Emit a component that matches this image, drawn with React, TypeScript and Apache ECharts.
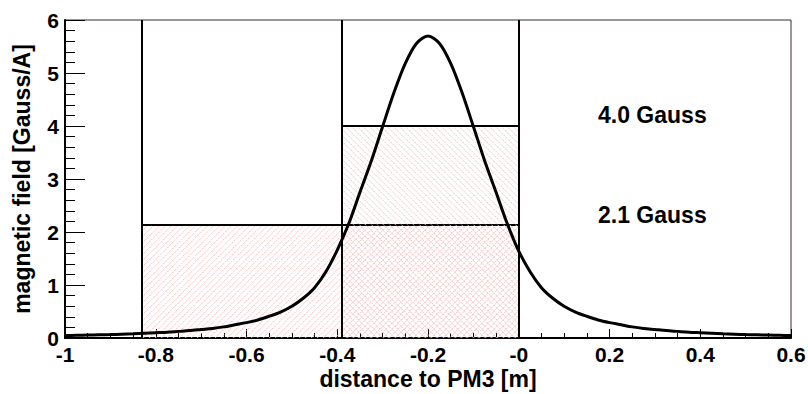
import React, { useEffect, useRef } from "react";
import * as echarts from "echarts";

// Curve: distance (m) vs magnetic field (Gauss/A), sampled every 0.025 m
const curveX = [
  -1.0, -0.975, -0.95, -0.925, -0.9, -0.875, -0.85, -0.825, -0.8, -0.775, -0.75, -0.725, -0.7,
  -0.675, -0.65, -0.625, -0.6, -0.575, -0.55, -0.525, -0.5, -0.475, -0.45, -0.425, -0.4, -0.375,
  -0.35, -0.325, -0.3, -0.275, -0.25, -0.225, -0.2, -0.175, -0.15, -0.125, -0.1, -0.075, -0.05,
  -0.025, 0.0, 0.025, 0.05, 0.075, 0.1, 0.125, 0.15, 0.175, 0.2, 0.225, 0.25, 0.275, 0.3, 0.325,
  0.35, 0.375, 0.4, 0.425, 0.45, 0.475, 0.5, 0.525, 0.55, 0.575, 0.6,
];
const curveY = [
  0.045, 0.05, 0.055, 0.06, 0.065, 0.072, 0.08, 0.09, 0.1, 0.11, 0.125, 0.14, 0.16,
  0.18, 0.21, 0.25, 0.29, 0.34, 0.41, 0.49, 0.6, 0.75, 0.95, 1.25, 1.66, 2.15,
  2.75, 3.34, 3.99, 4.63, 5.18, 5.56, 5.7, 5.56, 5.18, 4.63, 3.99, 3.34, 2.75,
  2.15, 1.64, 1.25, 0.95, 0.75, 0.6, 0.49, 0.41, 0.34, 0.29, 0.25, 0.21, 0.18, 0.16, 0.14,
  0.125, 0.11, 0.1, 0.09, 0.08, 0.072, 0.065, 0.06, 0.055, 0.05, 0.045,
];

// Hatched integration boxes
const boxStart = [-0.83, -0.39];
const boxEnd = [0.0, 0.0];
const boxLevel = [2.13, 4.0];
const boxHatch = ["/", "\\"];

// Vertical boundaries
const boundaries = [-0.83, -0.39, 0.0];

// Tick labels
const xTickLabels = ["-1", "-0.8", "-0.6", "-0.4", "-0.2", "-0", "0.2", "0.4", "0.6"];
const yTickLabels = ["0", "1", "2", "3", "4", "5", "6"];

// Annotations
const annotations = ["4.0 Gauss", "2.1 Gauss"];

const FONT = "Liberation Sans";

export default function App() {
  const ref = useRef<HTMLDivElement>(null);

  useEffect(() => {
    if (!ref.current) return;
    const chart = echarts.init(ref.current, undefined, { renderer: "svg" });

    const curveData = curveX.map((x, i) => [x, curveY[i]]);
    const boxData = boxStart.map((s, i) => [s, boxEnd[i], boxLevel[i], i]);

    const renderBox = (params: any, api: any) => {
      const x0 = api.value(0);
      const x1 = api.value(1);
      const h = api.value(2);
      const idx = api.value(3);
      const p0 = api.coord([x0, h]);
      const p1 = api.coord([x1, 0]);
      const L = p0[0], T = p0[1], R = p1[0], B = p1[1];
      const step = 6;
      const children: any[] = [];
      const hatchStyle = { stroke: "#f6b8b8", lineWidth: 1, lineDash: [1.5, 1] };
      if (boxHatch[idx] === "/") {
        for (let k = L + T + step; k < R + B; k += step) {
          const xa = Math.max(L, k - B);
          const xb = Math.min(R, k - T);
          if (xb <= xa) continue;
          children.push({
            type: "line",
            shape: { x1: xa, y1: k - xa, x2: xb, y2: k - xb },
            style: hatchStyle,
          });
        }
      } else {
        for (let k = T - R + step; k < B - L; k += step) {
          const xa = Math.max(L, T - k);
          const xb = Math.min(R, B - k);
          if (xb <= xa) continue;
          children.push({
            type: "line",
            shape: { x1: xa, y1: xa + k, x2: xb, y2: xb + k },
            style: hatchStyle,
          });
        }
      }
      children.push({
        type: "line",
        shape: { x1: L, y1: T, x2: R, y2: T },
        style: { stroke: "#000", lineWidth: 2 },
      });
      return { type: "group", children };
    };

    const labelStyle = {
      fontFamily: FONT,
      fontWeight: "bold" as const,
      fontSize: 21,
      lineHeight: 16,
      color: "#000",
    };
    const titleStyle = {
      fontFamily: FONT,
      fontWeight: "bold",
      fontSize: 23,
      lineHeight: 18,
      color: "#000",
    };

    chart.setOption({
      animation: false,
      backgroundColor: "#fff",
      grid: {
        left: 65,
        right: 17,
        top: 20,
        bottom: 56,
        outerBoundsMode: "none",
        containLabel: false,
        show: true,
        borderColor: "#3d2b2b",
        borderWidth: 1,
      },
      xAxis: {
        type: "value",
        min: -1,
        max: 0.6,
        interval: 0.2,
        name: "distance to PM3 [m]",
        nameLocation: "middle",
        nameGap: 32,
        nameMoveOverlap: false,
        nameTextStyle: titleStyle,
        axisLine: { show: true, onZero: false, lineStyle: { color: "#000", width: 2 } },
        axisTick: { show: true, inside: true, length: 9, lineStyle: { color: "#000", width: 1 } },
        minorTick: { show: true, splitNumber: 4, length: 5, lineStyle: { color: "#000", width: 1 } },
        splitLine: { show: false },
        axisLabel: {
          ...labelStyle,
          margin: 8,
          showMinLabel: true,
          showMaxLabel: true,
          formatter: (v: number) => xTickLabels[Math.round((v + 1) / 0.2)] ?? "",
        },
      },
      yAxis: {
        type: "value",
        min: 0,
        max: 6,
        interval: 1,
        name: "magnetic field [Gauss/A]",
        nameLocation: "middle",
        nameGap: 34,
        nameMoveOverlap: false,
        nameTextStyle: titleStyle,
        axisLine: { show: true, onZero: false, lineStyle: { color: "#000", width: 2 } },
        axisTick: { show: true, inside: true, length: 20, lineStyle: { color: "#000", width: 1 } },
        minorTick: { show: true, splitNumber: 5, length: 10, lineStyle: { color: "#000", width: 1 } },
        splitLine: { show: false },
        axisLabel: {
          ...labelStyle,
          margin: 6,
          showMinLabel: true,
          showMaxLabel: true,
          formatter: (v: number) => yTickLabels[Math.round(v)] ?? "",
        },
      },
      graphic: [
        {
          type: "text",
          left: 598,
          top: 103,
          style: { text: annotations[0], fontFamily: FONT, fontWeight: "bold", fontSize: 23, fill: "#000" },
        },
        {
          type: "text",
          left: 598,
          top: 203,
          style: { text: annotations[1], fontFamily: FONT, fontWeight: "bold", fontSize: 23, fill: "#000" },
        },
      ],
      series: [
        {
          type: "custom",
          renderItem: renderBox,
          data: boxData,
          z: 1,
          silent: true,
        },
        {
          type: "line",
          data: curveData,
          smooth: 0.3,
          showSymbol: false,
          symbol: "none",
          lineStyle: { color: "#000", width: 3 },
          z: 5,
          markLine: {
            silent: true,
            symbol: ["none", "none"],
            label: { show: false },
            lineStyle: { color: "#000", width: 2, type: "solid" },
            data: boundaries.map((b) => ({ xAxis: b })),
          },
        },
      ],
    });

    return () => chart.dispose();
  }, []);

  return (
    <div
      ref={ref}
      style={{ position: "fixed", left: 0, top: 0, width: 808, height: 394 }}
    />
  );
}
